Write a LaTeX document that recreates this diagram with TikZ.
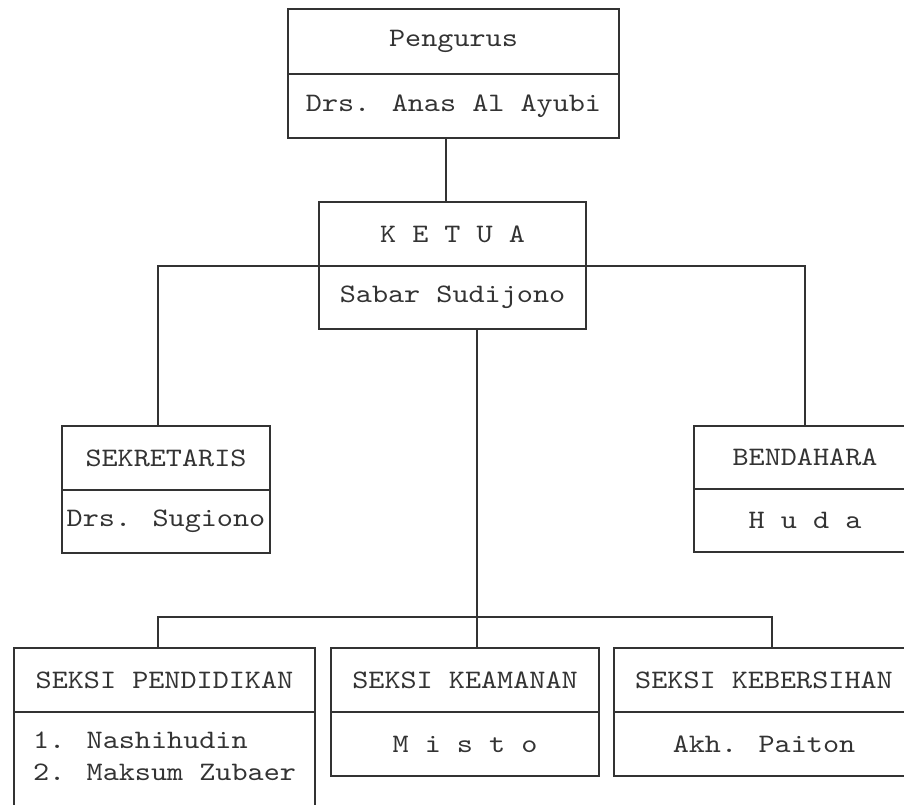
\documentclass[tikz,border=0pt]{standalone}
\usepackage{fontspec}
\newfontfamily\typew{lmmono10-regular}[Extension=.otf,FakeStretch=1.15]
\begin{document}
\begin{tikzpicture}[x=0.75pt,y=-0.75pt,
  box/.style={draw=black!80,line width=0.9pt,rectangle,inner sep=0pt,outer sep=0pt,
    font=\typew\fontsize{20}{24}\selectfont,text=black!80},
  txt/.style={inner sep=0pt,font=\typew\fontsize{20}{24}\selectfont,text=black!80,align=left},
  link/.style={draw=black!80,line width=0.9pt}]
\useasboundingbox (0,0) rectangle (904,804);
\clip (0,0) rectangle (904,804);
% Pengurus
\node[box,minimum width=248.25pt,minimum height=48.75pt] (peng1) at (453.5,41.5) {Pengurus};
\node[box,minimum width=248.25pt,minimum height=48pt] (peng2) at (453.5,106) {Drs. Anas Al Ayubi};
% Ketua
\node[box,minimum width=200.25pt,minimum height=48pt] (ket1) at (452.5,234) {K E T U A};
\node[box,minimum width=200.25pt,minimum height=47.25pt] (ket2) at (452.5,297.5) {Sabar Sudijono};
% Sekretaris
\node[box,minimum width=156pt,minimum height=48pt] (sek1) at (166,458) {SEKRETARIS};
\node[box,minimum width=156pt,minimum height=47.25pt] (sek2) at (166,521.5) {Drs. Sugiono};
% Bendahara
\node[box,minimum width=166.5pt,minimum height=47.25pt] (ben1) at (805,457.5) {BENDAHARA};
\node[box,minimum width=166.5pt,minimum height=47.25pt] (ben2) at (805,520.5) {H u d a};
% Seksi Pendidikan
\node[box,minimum width=225.75pt,minimum height=48pt] (pen1) at (164.5,680) {SEKSI PENDIDIKAN};
\node[box,minimum width=225.75pt,minimum height=88.5pt] (pen2) at (164.5,771) {};
\node[txt] (pen2t) at (164.5,756) {1. Nashihudin\\[0pt]2. Maksum Zubaer};
% Seksi Keamanan
\node[box,minimum width=201pt,minimum height=48pt] (kea1) at (465,680) {SEKSI KEAMANAN};
\node[box,minimum width=201pt,minimum height=48pt] (kea2) at (465,744) {M i s t o};
% Seksi Kebersihan
\node[box,minimum width=225pt,minimum height=48pt] (keb1) at (764,680) {SEKSI KEBERSIHAN};
\node[box,minimum width=225pt,minimum height=48pt] (keb2) at (764,744) {Akh. Paiton};
% helper x positions
\coordinate (cx) at (446,0);
\coordinate (sx) at (158,0);
\coordinate (kx) at (477,0);
\coordinate (rx) at (772,0);
\coordinate (bus) at (477,617);
% connectors
\draw[link] (peng2.south -| cx) -- (ket1.north -| cx);
\draw[link] (sek1.north -| sx) |- (ket1.south west);
\draw[link] (ben1.north) |- (ket1.south east);
\draw[link] (ket2.south -| kx) -- (kea1.north -| kx);
\draw[link] (pen1.north -| sx) |- (bus) -| (keb1.north -| rx);
\end{tikzpicture}
\end{document}
